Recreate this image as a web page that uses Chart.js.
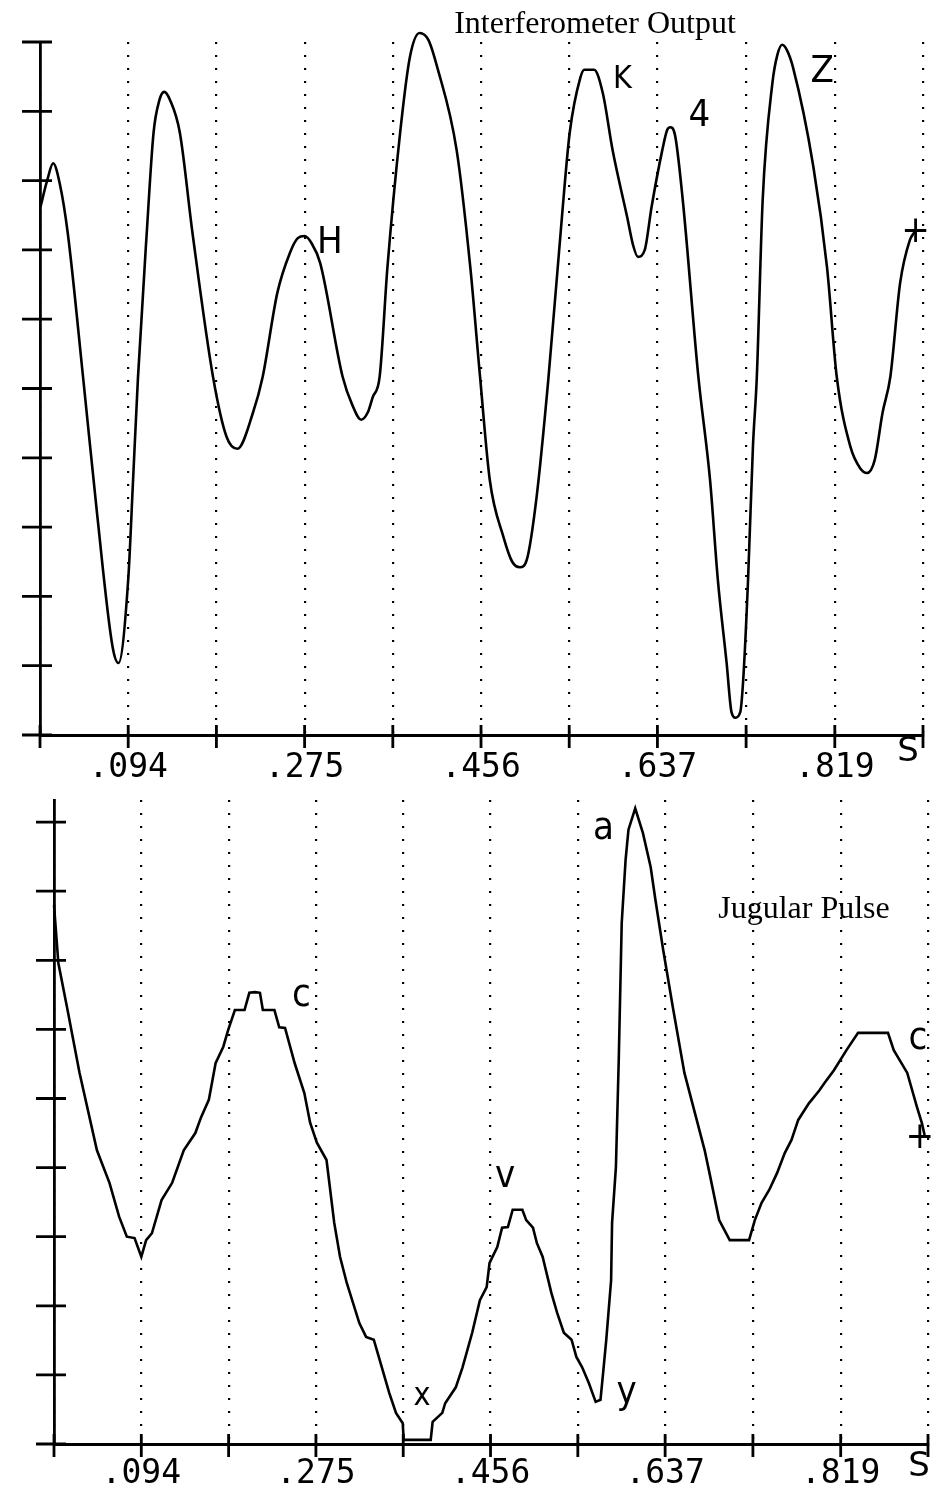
<!DOCTYPE html>
<html>
<head>
<meta charset="utf-8">
<script src="https://cdn.jsdelivr.net/npm/chart.js@4.4.0/dist/chart.umd.min.js"></script>
<style>
    html, body { margin: 0; padding: 0; background: #fff; }
    #wrap { position: relative; width: 939px; height: 1496px; }
    canvas { position: absolute; left: 0; }
    #graph_interf { top: 0; }
    #graph_jugular { top: 790px; }
</style>
</head>
<body>
<div id="wrap">
    <canvas id="graph_interf" width="939" height="790" style="width:939px;height:790px"></canvas>
    <canvas id="graph_jugular" width="939" height="706" style="width:939px;height:706px"></canvas>
</div>
<script>
// ############################## DATOS ############################### //
// tiempo en segundos, amplitud en divisiones del eje
const tiempoInterf = [
    0.004, 0.011, 0.017, 0.024, 0.032, 0.048, 0.062, 0.078, 0.084, 0.094,
    0.099, 0.104, 0.113, 0.120, 0.126, 0.131, 0.137, 0.147, 0.160, 0.181,
    0.195, 0.206, 0.222, 0.232, 0.247, 0.260, 0.268, 0.275, 0.282, 0.291,
    0.314, 0.324, 0.333, 0.340, 0.345, 0.352, 0.360, 0.373, 0.383, 0.393,
    0.402, 0.411, 0.431, 0.445, 0.455, 0.465, 0.479, 0.488, 0.496, 0.503,
    0.513, 0.525, 0.539, 0.547, 0.558, 0.562, 0.572, 0.581, 0.591, 0.606,
    0.612, 0.617, 0.624, 0.631, 0.642, 0.647, 0.650, 0.655, 0.663, 0.679,
    0.691, 0.699, 0.708, 0.713, 0.717, 0.722, 0.725, 0.730, 0.735, 0.739,
    0.745, 0.755, 0.760, 0.765, 0.770, 0.776, 0.797, 0.811, 0.821, 0.835,
    0.845, 0.852, 0.860, 0.868, 0.876, 0.886, 0.896, 0.901
];
const valorInterf = [
    7.62, 8.01, 8.25, 7.94, 7.24, 5.12, 3.20, 1.27, 1.04, 2.24,
    3.68, 5.15, 7.24, 8.69, 9.16, 9.28, 9.16, 8.69, 7.24, 5.17,
    4.30, 4.13, 4.65, 5.17, 6.38, 6.96, 7.17, 7.20, 7.10, 6.81,
    5.17, 4.76, 4.55, 4.66, 4.88, 5.17, 6.75, 8.69, 9.78, 10.13,
    10.03, 9.64, 8.44, 6.75, 5.17, 3.68, 2.86, 2.50, 2.42, 2.53,
    3.43, 5.12, 7.47, 8.69, 9.49, 9.60, 9.60, 9.26, 8.44, 7.47,
    7.07, 6.90, 7.00, 7.62, 8.44, 8.73, 8.77, 8.66, 7.72, 5.17,
    3.68, 2.24, 1.04, 0.33, 0.25, 0.33, 0.79, 2.24, 4.16, 5.17,
    7.72, 9.41, 9.81, 9.96, 9.88, 9.64, 8.20, 6.75, 5.17, 4.16,
    3.85, 3.78, 3.97, 4.65, 5.17, 6.52, 7.14, 7.26
];

const tiempoYugular = [
    0.0035, 0.008, 0.017, 0.030, 0.048, 0.061, 0.071, 0.079, 0.087, 0.094,
    0.099, 0.105, 0.115, 0.126, 0.138, 0.150, 0.156, 0.164, 0.171, 0.179,
    0.184, 0.191, 0.201, 0.206, 0.212, 0.217, 0.220, 0.232, 0.237, 0.243,
    0.253, 0.263, 0.269, 0.276, 0.286, 0.294, 0.300, 0.307, 0.320, 0.327,
    0.335, 0.341, 0.351, 0.358, 0.365, 0.366, 0.394, 0.396, 0.406, 0.409,
    0.420, 0.427, 0.437, 0.445, 0.452, 0.455, 0.463, 0.468, 0.474, 0.479,
    0.489, 0.493, 0.500, 0.504, 0.510, 0.519, 0.525, 0.532, 0.540, 0.545,
    0.551, 0.558, 0.565, 0.570, 0.573, 0.576, 0.581, 0.582, 0.586, 0.589,
    0.592, 0.596, 0.599, 0.606, 0.614, 0.622, 0.627, 0.635, 0.645, 0.657,
    0.669, 0.678, 0.683, 0.693, 0.704, 0.724, 0.730, 0.737, 0.745, 0.753,
    0.761, 0.768, 0.775, 0.786, 0.797, 0.802, 0.812, 0.825, 0.837, 0.868,
    0.874, 0.888, 0.898, 0.903, 0.906
];
const valorYugular = [
    7.80, 6.96, 6.32, 5.37, 4.25, 3.78, 3.29, 3.00, 2.98, 2.71,
    2.95, 3.05, 3.53, 3.78, 4.25, 4.50, 4.73, 4.98, 5.51, 5.75,
    5.99, 6.28, 6.28, 6.53, 6.54, 6.53, 6.28, 6.28, 6.03, 6.02,
    5.51, 5.08, 4.65, 4.36, 4.11, 3.20, 2.71, 2.33, 1.75, 1.55,
    1.51, 1.22, 0.74, 0.45, 0.30, 0.06, 0.06, 0.32, 0.45, 0.59,
    0.82, 1.11, 1.61, 2.08, 2.27, 2.62, 2.85, 3.13, 3.14, 3.39,
    3.39, 3.24, 3.13, 2.91, 2.71, 2.19, 1.90, 1.61, 1.51, 1.26,
    1.11, 0.88, 0.61, 0.64, 1.07, 1.51, 2.37, 3.20, 4.01, 5.60,
    7.54, 8.45, 8.89, 9.20, 8.84, 8.35, 7.87, 7.15, 6.32, 5.37,
    4.73, 4.25, 3.92, 3.24, 2.95, 2.95, 3.24, 3.49, 3.68, 3.92,
    4.21, 4.40, 4.69, 4.93, 5.12, 5.22, 5.41, 5.70, 5.95, 5.95,
    5.70, 5.37, 4.88, 4.65, 4.47
];

const tickTiempos = [0.0035, 0.094, 0.1845, 0.275, 0.3655, 0.456, 0.5465, 0.637, 0.728, 0.819, 0.9095];
const tickEtiquetas = ['', '.094', '', '.275', '', '.456', '', '.637', '', '.819', ''];
const ticksInterfY = [0, 1, 2, 3, 4, 5, 6, 7, 8, 9, 10];
const ticksYugularY = [0, 1, 2, 3, 4, 5, 6, 7, 8, 9];

// ############################## PLUGIN: cruces de ejes y anotaciones ############################### //
const crucesEjes = {
    id: 'crucesEjes',
    afterDraw(chart, args, opts) {
        const {ctx, chartArea, scales: {x, y}} = chart;
        ctx.save();
        ctx.strokeStyle = '#000';
        ctx.lineWidth = 2.8;
        ctx.beginPath();
        x.ticks.forEach(t => {
            const px = x.getPixelForValue(t.value);
            ctx.moveTo(px, chartArea.bottom - 10);
            ctx.lineTo(px, chartArea.bottom + 13);
        });
        y.ticks.forEach(t => {
            const py = y.getPixelForValue(t.value);
            ctx.moveTo(chartArea.left - 18, py);
            ctx.lineTo(chartArea.left + 12, py);
        });
        ctx.stroke();

        ctx.fillStyle = '#000';
        ctx.textAlign = 'center';
        ctx.textBaseline = 'middle';
        opts.notas.forEach(n => {
            ctx.font = n.font;
            ctx.fillText(n.texto, x.getPixelForValue(n.t), y.getPixelForValue(n.v));
        });

        // unidad del eje x
        ctx.font = '34px "DejaVu Sans"';
        ctx.fillText('S', chartArea.right + opts.sDx, chartArea.bottom + opts.sDy);

        ctx.textBaseline = 'alphabetic';
        ctx.font = '32px "Liberation Serif"';
        ctx.fillText(opts.titulo, opts.tituloX, opts.tituloY);
        ctx.restore();
    }
};

const letraG = '38px "DejaVu Sans Condensed", "DejaVu Sans"';
const letraM = '32px "DejaVu Sans Condensed", "DejaVu Sans"';

function hacerConfig(tiempo, valor, ticksY, maxY, padding, altoX, padTicks, suave, notas, extra) {
    return {
        type: 'line',
        data: {
            datasets: [{
                label: extra.titulo,
                data: tiempo.map((t, i) => ({x: t, y: valor[i]})),
                borderColor: '#000',
                borderWidth: 2.6,
                pointRadius: 0,
                fill: false,
                clip: false,
                tension: 0,
                cubicInterpolationMode: suave ? 'monotone' : 'default'
            }]
        },
        options: {
            responsive: false,
            animation: false,
            layout: {padding: padding},
            plugins: {
                legend: {display: false},
                tooltip: {enabled: false},
                crucesEjes: Object.assign({notas: notas}, extra)
            },
            scales: {
                x: {
                    type: 'linear',
                    min: tickTiempos[0],
                    max: tickTiempos[tickTiempos.length - 1],
                    afterBuildTicks: ax => { ax.ticks = tickTiempos.map(v => ({value: v})); },
                    afterFit: ax => { ax.height = altoX; },
                    grid: {color: '#000', lineWidth: 2.2, drawTicks: false},
                    border: {display: true, color: '#000', width: 3, dash: [2, 11]},
                    ticks: {
                        autoSkip: false,
                        maxRotation: 0,
                        padding: padTicks,
                        color: '#000',
                        font: {family: '"DejaVu Sans Mono"', size: 33},
                        callback: (v, i) => tickEtiquetas[i]
                    }
                },
                y: {
                    min: 0,
                    max: maxY,
                    afterBuildTicks: ax => { ax.ticks = ticksY.map(v => ({value: v})); },
                    afterFit: ax => { ax.width = 0; },
                    grid: {display: false},
                    border: {display: true, color: '#000', width: 2.8},
                    ticks: {display: false}
                }
            }
        },
        plugins: [crucesEjes]
    };
}

// ############################## GRÁFICA INTERFERÓMETRO ############################### //
(function(){
    const notas = [
        {texto: 'H', t: 0.301, v: 7.10, font: letraG},
        {texto: 'K', t: 0.601, v: 9.45, font: letraM},
        {texto: '4', t: 0.680, v: 8.93, font: letraG},
        {texto: 'Z', t: 0.806, v: 9.57, font: letraG},
        {texto: '+', t: 0.902, v: 7.26, font: letraG}
    ];
    new Chart(
        document.getElementById('graph_interf'),
        hacerConfig(tiempoInterf, valorInterf, ticksInterfY, 10,
            {left: 40, right: 16, top: 42, bottom: 0}, 55, 14, true, notas,
            {titulo: 'Interferometer Output', tituloX: 595, tituloY: 33, sDx: -15, sDy: 17})
    );
})();

// ############################## GRÁFICA PULSO YUGULAR ############################### //
(function(){
    const notas = [
        {texto: 'c', t: 0.260, v: 6.48, font: letraG},
        {texto: 'a', t: 0.573, v: 8.90, font: letraG},
        {texto: 'v', t: 0.471, v: 3.86, font: letraG},
        {texto: 'x', t: 0.385, v: 0.69, font: letraM},
        {texto: 'y', t: 0.597, v: 0.74, font: letraG},
        {texto: 'c', t: 0.899, v: 5.86, font: letraG},
        {texto: '+', t: 0.901, v: 4.43, font: letraG}
    ];
    new Chart(
        document.getElementById('graph_jugular'),
        hacerConfig(tiempoYugular, valorYugular, ticksYugularY, 9.32,
            {left: 54, right: 1, top: 10, bottom: 0}, 52, 11, false, notas,
            {titulo: 'Jugular Pulse', tituloX: 804, tituloY: 128, sDx: -9, sDy: 23})
    );
})();
// ###################################################################################### //
</script>
</body>
</html>
